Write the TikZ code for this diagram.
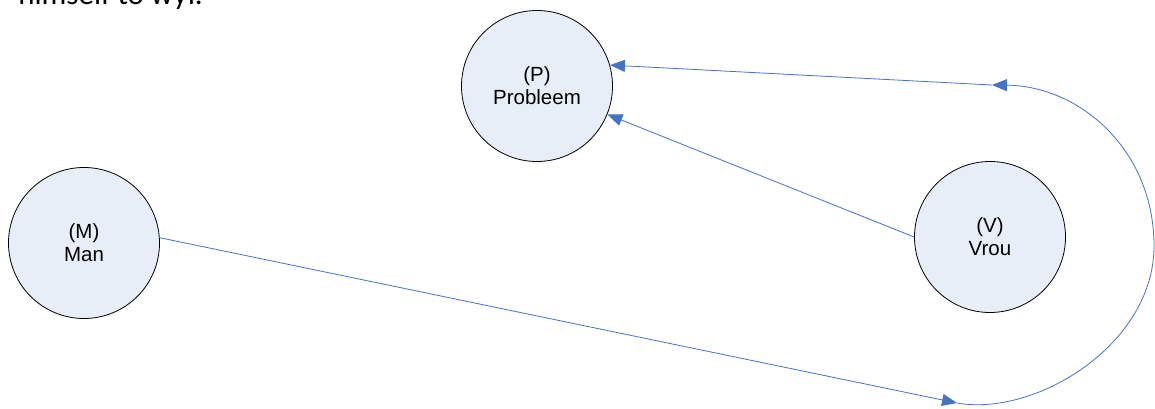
\documentclass[tikz,border=0pt]{standalone}
\usepackage{fontspec}
\setmainfont{Liberation Sans}
\newfontfamily\topfont{Carlito}
\usetikzlibrary{arrows.meta}
\definecolor{circfill}{RGB}{232,238,247}
\definecolor{conn}{RGB}{68,114,196}
\tikzset{
  party/.style={circle, draw=black, line width=0.8pt, fill=circfill, minimum size=151pt, inner sep=0pt, align=center, font=\fontsize{20.5}{23}\selectfont},
  link/.style={draw=conn, line width=0.8pt, -{Triangle[length=15pt,width=12pt]}}
}
\begin{document}
\begin{tikzpicture}[x=1pt,y=-1pt]
\useasboundingbox (0,0) rectangle (1155,409);
\clip (0,0) rectangle (1155,409);
\node[anchor=base east, font=\topfont\fontsize{31}{34}\selectfont, inner sep=0pt] (top) at (203,5) {himself to wyf.};
\node[party] (P) at (537,86) {(P)\\Probleem};
\node[party] (M) at (84,243) {(M)\\Man};
\node[party] (V) at (990,237) {(V)\\Vrou};
\coordinate (c1) at (957,403);
\coordinate (c2) at (992,85);
\draw[link] (M.4) -- (c1);
\draw[link] (c1) .. controls (1035,417) and (1154,345) .. (1154,246) .. controls (1154,150) and (1080,86) .. (c2);
\draw[link] (c2) -- (P.16);
\draw[link] (V.west) -- (P.-22);
\end{tikzpicture}
\end{document}
